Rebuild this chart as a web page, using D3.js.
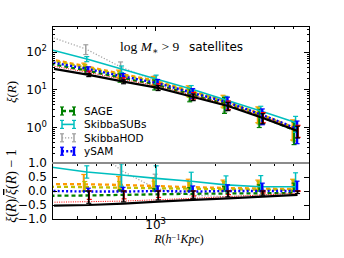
<!DOCTYPE html>
<html>
<head>
<meta charset="utf-8">
<script src="https://d3js.org/d3.v7.min.js"></script>
<style>
	html, body { margin: 0; padding: 0; background: #fff; }
	svg { display: block; }
	text { font-family: "DejaVu Sans", sans-serif; fill: #000; }
	.math { font-family: "Liberation Serif", "DejaVu Serif", serif; }
	.axis path, .axis line { stroke: #000; stroke-width: 1; shape-rendering: crispEdges; }
</style>
</head>
<body>
<svg id="chart" width="344" height="258"></svg>
<script>
// separation bins, h^-1 Kpc
var radii = [300, 450, 675, 1010, 1520, 2280, 3420, 5130];

// xi(R), upper panel
var xiSage       = [48.2, 32.5, 20.8, 13.8, 7.6, 4.2, 1.95, 0.84];
var xiSkibbaSubs = [113, 65, 35.2, 19.1, 10.3, 5.25, 2.67, 1.32];
var xiSkibbaHod  = [250, 120, 40, 17, 7.6, 3.8, 1.95, 0.85];
var xiYsam       = [51.7, 34.9, 22.2, 14.7, 8.1, 4.54, 2.09, 0.9];
var xiBlack      = [35.2, 24.4, 16.1, 11, 6.3, 3.63, 1.74, 0.78];
var xiRed        = [41.2, 28.1, 18.2, 12.3, 6.9, 3.92, 1.86, 0.82];
var xiOrange     = [64.4, 42.7, 26.9, 17.5, 9.6, 5.2, 2.37, 1.0];
var xiYellow     = [58.8, 39.3, 24.8, 16.3, 8.9, 4.9, 2.23, 0.95];

// errors on xi(R)
var errSage       = [0, 6.5, 5.2, 4.1, 2.9, 1.9, 0.98, 0.5];
var errSkibbaSubs = [0, 10, 7, 5, 2.4, 1.3, 0.9, 0.6];
var errSkibbaHod  = [0, 35, 14, 6, 2.5, 1.3, 0.8, 0.45];
var errYsam       = [0, 5.2, 4.4, 3.7, 2.4, 1.7, 0.94, 0.54];
var errBlack      = [0, 2.4, 1.9, 1.65, 1.26, 0.9, 0.52, 0.27];
var errRed        = [0, 2.8, 2.2, 1.85, 1.4, 1.0, 0.56, 0.29];
var errOrange     = [0, 7.7, 5.9, 4.7, 2.9, 1.8, 1.07, 0.55];
var errYellow     = [0, 7.1, 5.5, 4.4, 2.7, 1.7, 1.0, 0.52];

// xi / mean(xi) - 1, lower panel
var ratioSage       = [-0.17, -0.16, -0.14, -0.12, -0.1, -0.09, -0.08, -0.07];
var ratioSkibbaSubs = [0.85, 0.68, 0.57, 0.45, 0.35, 0.22, 0.15, 0.15];
var ratioSkibbaHod  = [3.0, 1.8, 0.75, 0.1, -0.15, -0.2, -0.15, -0.05];
var ratioYsam       = [0.0, -0.02, -0.02, 0.0, -0.02, 0.0, 0.0, 0.0];
var ratioBlack      = [-0.52, -0.5, -0.45, -0.38, -0.32, -0.26, -0.2, -0.14];
var ratioRed        = [-0.4, -0.38, -0.36, -0.31, -0.26, -0.2, -0.14, -0.08];
var ratioOrange     = [0.25, 0.24, 0.22, 0.18, 0.14, 0.11, 0.09, 0.07];
var ratioYellow     = [0.15, 0.14, 0.12, 0.1, 0.08, 0.06, 0.05, 0.04];

var ratioErrSage       = [0, 0.15, 0.18, 0.2, 0.22, 0.25, 0.3, 0.35];
var ratioErrSkibbaSubs = [0, 0.22, 0.4, 0.45, 0.32, 0.32, 0.4, 0.5];
var ratioErrSkibbaHod  = [0, 0.8, 0.9, 0.5, 0.4, 0.35, 0.35, 0.4];
var ratioErrYsam       = [0, 0.12, 0.15, 0.18, 0.2, 0.22, 0.28, 0.35];
var ratioErrBlack      = [0, 0.06, 0.06, 0.06, 0.06, 0.05, 0.05, 0.05];
var ratioErrRed        = [0, 0.08, 0.08, 0.08, 0.08, 0.07, 0.07, 0.07];
var ratioErrOrange     = [0, 0.35, 0.3, 0.3, 0.28, 0.28, 0.3, 0.35];
var ratioErrYellow     = [0, 0.2, 0.22, 0.25, 0.25, 0.28, 0.3, 0.35];

// ticks
var xMinorTicks = [300, 400, 500, 600, 700, 800, 900, 2000, 3000, 4000, 5000, 6000];
var xMajorExps = [3];
var yTopMajorExps = [0, 1, 2];
var ratioTicks = [-1, -0.5, 0, 0.5, 1];
var ratioTickLabels = ["\u22121.0", "\u22120.5", "0.0", "0.5", "1.0"];
var legendNames = ["SAGE", "SkibbaSUBs", "SkibbaHOD", "ySAM"];

var series = [
	{ key: "SkibbaHOD", xi: xiSkibbaHod, err: errSkibbaHod, ratio: ratioSkibbaHod, rErr: ratioErrSkibbaHod,
		color: "#a0a0a0", width: 1.2, dash: "1.2,1.8", barWidth: 1.5, dx: -1 },
	{ key: "orange", xi: xiOrange, err: errOrange, ratio: ratioOrange, rErr: ratioErrOrange,
		color: "#ff9900", width: 2.3, dash: "4,3", barWidth: 2, dx: -3 },
	{ key: "yellow", xi: xiYellow, err: errYellow, ratio: ratioYellow, rErr: ratioErrYellow,
		color: "#bfbf00", width: 2.3, dash: "4,3", barWidth: 2, dx: -2 },
	{ key: "SAGE", xi: xiSage, err: errSage, ratio: ratioSage, rErr: ratioErrSage,
		color: "#008000", width: 2.3, dash: "4,3", barWidth: 2, dx: -1.5 },
	{ key: "SkibbaSUBs", xi: xiSkibbaSubs, err: errSkibbaSubs, ratio: ratioSkibbaSubs, rErr: ratioErrSkibbaSubs,
		color: "#00bfbf", width: 1.6, dash: null, barWidth: 1.5, dx: 0 },
	{ key: "ySAM", xi: xiYsam, err: errYsam, ratio: ratioYsam, rErr: ratioErrYsam,
		color: "#0000ff", width: 2.4, dash: "2,2.2", barWidth: 2.4, dx: 1.5 },
	{ key: "red", xi: xiRed, err: errRed, ratio: ratioRed, rErr: ratioErrRed,
		color: "#ff0000", width: 1, dash: "1,1.3", barWidth: 1.5, dx: 2.5 },
	{ key: "black", xi: xiBlack, err: errBlack, ratio: ratioBlack, rErr: ratioErrBlack,
		color: "#000000", width: 2.2, dash: null, barWidth: 1.8, dx: 2 }
];

var svg = d3.select("#chart");

var box = { left: 52, right: 309, top: 26, mid: 163, bottom: 219 };

var x = d3.scaleLog().domain([300, 6000]).range([box.left, box.right]);
var yTop = d3.scaleLog().domain([0.11, 490]).range([box.mid, box.top]);
var yBot = d3.scaleLinear().domain([-1, 1]).range([box.bottom, box.mid]);

var defs = svg.append("defs");
defs.append("clipPath").attr("id", "clipTop").append("rect")
	.attr("x", box.left).attr("y", box.top)
	.attr("width", box.right - box.left).attr("height", box.mid - box.top);
defs.append("clipPath").attr("id", "clipBot").append("rect")
	.attr("x", box.left).attr("y", box.mid)
	.attr("width", box.right - box.left).attr("height", box.bottom - box.mid);

function drawPanel(clipId, yScale, valueKey, errKey) {

	var g = svg.append("g").attr("clip-path", "url(#" + clipId + ")");

	series.forEach(function(s) {

		var line = d3.line()
			.x(function(d, i) { return x(radii[i]) + s.dx; })
			.y(function(d) { return yScale(d); });

		g.append("path")
			.datum(s[valueKey])
			.attr("d", line)
			.attr("fill", "none")
			.attr("stroke", s.color)
			.attr("stroke-width", s.width)
			.attr("stroke-dasharray", s.dash);

		s[valueKey].forEach(function(v, i) {
			var e = s[errKey][i];
			if (!e) {
				return;
			}
			var cx = x(radii[i]) + s.dx,
				lo = v - e > 0 ? v - e : 1e-3,
				y0 = yScale(lo),
				y1 = yScale(v + e);

			g.append("line")
				.attr("x1", cx).attr("x2", cx)
				.attr("y1", y0).attr("y2", y1)
				.attr("stroke", s.color).attr("stroke-width", s.barWidth);

			[y0, y1].forEach(function(yy) {
				g.append("line")
					.attr("x1", cx - 2.5).attr("x2", cx + 2.5)
					.attr("y1", yy).attr("y2", yy)
					.attr("stroke", s.color).attr("stroke-width", 1.2);
			});
		});
	});
}

drawPanel("clipTop", yTop, "xi", "err");
drawPanel("clipBot", yBot, "ratio", "rErr");

// axes, ticks inside on every side
function addAxis(axis, tx, ty) {
	return svg.append("g")
		.attr("class", "axis")
		.attr("transform", "translate(" + tx + "," + ty + ")")
		.call(axis)
		.call(function(g) { g.selectAll("text").remove(); });
}

var yTopMinor = [];
[-1, 0, 1, 2].forEach(function(p) {
	for (var k = 2; k <= 9; k++) {
		var v = k * Math.pow(10, p);
		if (v >= 0.11 && v <= 490) {
			yTopMinor.push(v);
		}
	}
});
var yTopMajor = yTopMajorExps.map(function(p) { return Math.pow(10, p); });
var xMajor = xMajorExps.map(function(p) { return Math.pow(10, p); });

// upper panel
addAxis(d3.axisLeft(yTop).tickValues(yTopMajor).tickSize(-5).tickSizeOuter(0), box.left, 0);
addAxis(d3.axisLeft(yTop).tickValues(yTopMinor).tickSize(-2.5).tickSizeOuter(0), box.left, 0);
addAxis(d3.axisRight(yTop).tickValues(yTopMajor).tickSize(-5).tickSizeOuter(0), box.right, 0);
addAxis(d3.axisRight(yTop).tickValues(yTopMinor).tickSize(-2.5).tickSizeOuter(0), box.right, 0);
addAxis(d3.axisTop(x).tickValues(xMajor).tickSize(-5).tickSizeOuter(0), 0, box.top);
addAxis(d3.axisTop(x).tickValues(xMinorTicks).tickSize(-3).tickSizeOuter(0), 0, box.top);

// lower panel
addAxis(d3.axisLeft(yBot).tickValues(ratioTicks).tickSize(-5).tickSizeOuter(0), box.left, 0);
addAxis(d3.axisRight(yBot).tickValues(ratioTicks).tickSize(-5).tickSizeOuter(0), box.right, 0);
addAxis(d3.axisBottom(x).tickValues(xMajor).tickSize(-5).tickSizeOuter(0), 0, box.bottom);
addAxis(d3.axisBottom(x).tickValues(xMinorTicks).tickSize(-3).tickSizeOuter(0), 0, box.bottom);
addAxis(d3.axisBottom(x).tickValues(xMajor).tickSize(5).tickSizeOuter(0), 0, box.mid);
addAxis(d3.axisBottom(x).tickValues(xMinorTicks).tickSize(3).tickSizeOuter(0), 0, box.mid);

// grey reference line at the top of the ratio panel
svg.append("line")
	.attr("x1", box.left).attr("x2", box.right)
	.attr("y1", yBot(1)).attr("y2", yBot(1))
	.attr("stroke", "#8c8c8c").attr("stroke-width", 2);

// tick labels
function powerLabel(tx, ty, anchor, exp) {
	var t = svg.append("text")
		.attr("x", tx).attr("y", ty)
		.attr("text-anchor", anchor)
		.style("font-size", "12px");
	t.append("tspan").text("10");
	t.append("tspan").attr("dy", -5).style("font-size", "8.5px").text(exp);
	return t;
}

yTopMajorExps.forEach(function(p) {
	powerLabel(47, yTop(Math.pow(10, p)) + 4.5, "end", p);
});
xMajorExps.forEach(function(p) {
	powerLabel(x(Math.pow(10, p)) - 10, box.bottom + 9.5, "start", p);
});

ratioTicks.forEach(function(v, i) {
	svg.append("text")
		.attr("x", 47).attr("y", yBot(v) + 4.3)
		.attr("text-anchor", "end")
		.style("font-size", "12px")
		.text(ratioTickLabels[i]);
});

// axis titles
function richText(sel, parts) {
	parts.forEach(function(p) {
		var t = sel.append("tspan").text(p.t);
		p.italic && t.style("font-style", "italic");
		p.size && t.style("font-size", p.size);
		p.dy && t.attr("dy", p.dy);
		p.over && t.style("text-decoration", "overline");
	});
	return sel;
}

richText(svg.append("text")
	.attr("class", "math")
	.attr("transform", "translate(16,92) rotate(-90)")
	.attr("text-anchor", "middle")
	.style("font-size", "13px"), [
		{ t: "\u03be", italic: true }, { t: "(" }, { t: "R", italic: true }, { t: ")" }
	]);

richText(svg.append("text")
	.attr("class", "math")
	.attr("transform", "translate(16,186) rotate(-90)")
	.attr("text-anchor", "middle")
	.style("font-size", "14px"), [
		{ t: "\u03be", italic: true }, { t: "(" }, { t: "R", italic: true }, { t: ")/" },
		{ t: "\u03be", italic: true, over: true }, { t: "(" }, { t: "R", italic: true },
		{ t: ") \u2212 1" }
	]);

richText(svg.append("text")
	.attr("class", "math")
	.attr("x", 179).attr("y", 243)
	.attr("text-anchor", "middle")
	.style("font-size", "12px"), [
		{ t: "R", italic: true }, { t: "(" }, { t: "h", italic: true },
		{ t: "\u22121", size: "8.5px", dy: -3.5 },
		{ t: "Kpc", italic: true, dy: 3.5 }, { t: ")" }
	]);

// annotation
richText(svg.append("text")
	.attr("class", "math")
	.attr("x", 120).attr("y", 51)
	.style("font-size", "13.5px"), [
		{ t: "log " }, { t: "M", italic: true },
		{ t: "\u2217", size: "9px", dy: 3 },
		{ t: " > 9", dy: -3 }
	]);

svg.append("text")
	.attr("x", 189).attr("y", 51)
	.style("font-size", "12px")
	.text("satellites");

// legend
var legendRows = legendNames.map(function(name) {
	return series.filter(function(s) { return s.key === name; })[0];
});

var legend = svg.append("g").attr("transform", "translate(0,111)");

legendRows.forEach(function(s, i) {
	var row = legend.append("g").attr("transform", "translate(0," + (i * 13.4) + ")");

	row.append("line")
		.attr("x1", 62).attr("x2", 74)
		.attr("y1", 0).attr("y2", 0)
		.attr("stroke", s.color)
		.attr("stroke-width", s.width)
		.attr("stroke-dasharray", s.dash);

	[62, 74].forEach(function(cx) {
		row.append("line")
			.attr("x1", cx).attr("x2", cx)
			.attr("y1", -4).attr("y2", 4)
			.attr("stroke", s.color).attr("stroke-width", s.barWidth);
		[-4, 4].forEach(function(yy) {
			row.append("line")
				.attr("x1", cx - 2).attr("x2", cx + 2)
				.attr("y1", yy).attr("y2", yy)
				.attr("stroke", s.color).attr("stroke-width", 1.2);
		});
	});

	row.append("text")
		.attr("x", 84).attr("y", 4)
		.style("font-size", "10.5px")
		.text(s.key);
});
</script>
</body>
</html>
